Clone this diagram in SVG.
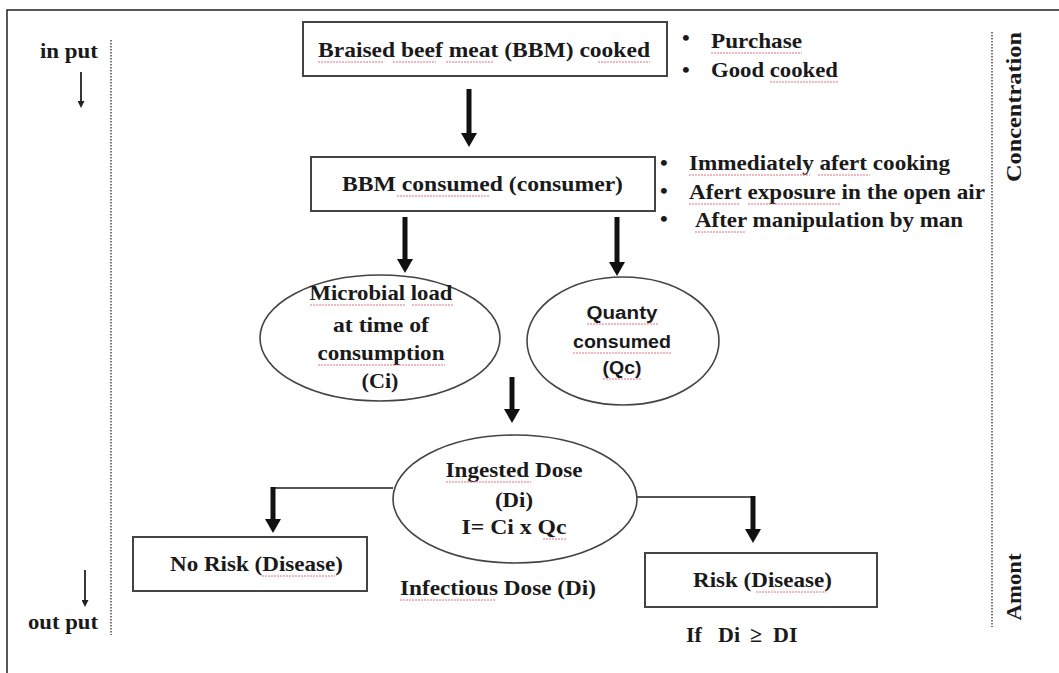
<svg xmlns="http://www.w3.org/2000/svg" width="1059" height="673" viewBox="0 0 1059 673">
<defs>
<style>
.t{font-family:"Liberation Serif","Times New Roman",serif;font-weight:bold;font-size:22px;fill:#1a1a1a}
.s{font-family:"Liberation Sans",Arial,sans-serif;font-weight:bold;font-size:18px;fill:#1a1a1a}
.mid{text-anchor:middle}
.box{fill:#fff;stroke:#444;stroke-width:2}
.ell{fill:#fff;stroke:#444;stroke-width:1.6}
.thick{stroke:#111;stroke-width:5;fill:none}
.thin{stroke:#555;stroke-width:2.2;fill:none}
.small{stroke:#222;stroke-width:1.8;fill:none}
.dot{stroke:#555;stroke-width:1.6;stroke-dasharray:1.5 1.5;fill:none}
.sp{stroke:#e0707f;stroke-width:1;fill:none;stroke-dasharray:2 1}
</style>
<marker id="ah" viewBox="0 0 14 16" refX="0" refY="8" markerWidth="14" markerHeight="16" markerUnits="userSpaceOnUse" orient="auto">
<path d="M0,0 L14,8 L0,16 z" fill="#111"/>
</marker>
<marker id="sh" viewBox="0 0 7 7" refX="0" refY="3.5" markerWidth="7" markerHeight="7" markerUnits="userSpaceOnUse" orient="auto">
<path d="M0,0 L7,3.5 L0,7 z" fill="#222"/>
</marker>
</defs>
<rect width="1059" height="673" fill="#fff"/>
<path d="M7,673 V10 H1059" stroke="#222" stroke-width="1.5" fill="none"/>

<g id="side-left">
<text class="t" x="40" y="58" textLength="58" lengthAdjust="spacingAndGlyphs">in put</text>
<line class="small" x1="81" y1="72" x2="81" y2="101" marker-end="url(#sh)"/>
<line class="small" x1="85" y1="570" x2="85" y2="600" marker-end="url(#sh)"/>
<text class="t" x="28" y="629" textLength="70" lengthAdjust="spacingAndGlyphs">out put</text>
<line class="dot" x1="111" y1="40" x2="111" y2="635"/>
</g>

<g id="side-right">
<line class="dot" x1="992" y1="32" x2="992" y2="627"/>
<text class="t mid" transform="translate(1021,107) rotate(-90)" x="0" y="0" textLength="150" lengthAdjust="spacingAndGlyphs">Concentration</text>
<text class="t mid" transform="translate(1021,587) rotate(-90)" x="0" y="0" textLength="67" lengthAdjust="spacingAndGlyphs">Amont</text>
</g>

<g id="connectors">
<line class="thick" x1="469" y1="89" x2="469" y2="133" marker-end="url(#ah)"/>
<line class="thick" x1="405" y1="217" x2="405" y2="259" marker-end="url(#ah)"/>
<line class="thick" x1="617" y1="217" x2="617" y2="262" marker-end="url(#ah)"/>
<line class="thick" x1="512" y1="377" x2="512" y2="409" marker-end="url(#ah)"/>
<polyline class="thin" points="393,488 273,488"/>
<line class="thick" x1="273" y1="487" x2="273" y2="519" marker-end="url(#ah)"/>
<polyline class="thin" points="637,497 753,497"/>
<line class="thick" x1="753" y1="496" x2="753" y2="529" marker-end="url(#ah)"/>
</g>

<g id="node-bbm-cooked">
<rect class="box" x="303" y="22" width="364" height="54"/>
<text class="t" x="318" y="57" textLength="332" lengthAdjust="spacingAndGlyphs">Braised beef meat (BBM) cooked</text>
<path class="sp" d="M318,62 H383 M393,62 H436 M446,62 H494 M598,62 H650"/>
</g>

<g id="notes-cooked">
<text class="t" x="682" y="45">•</text>
<text class="t" x="711" y="48" textLength="91" lengthAdjust="spacingAndGlyphs">Purchase</text>
<text class="t" x="682" y="77">•</text>
<text class="t" x="711" y="77" textLength="127" lengthAdjust="spacingAndGlyphs">Good cooked</text>
<path class="sp" d="M711,53 H802 M770,82 H838"/>
</g>

<g id="node-bbm-consumed">
<rect class="box" x="311" y="157" width="344" height="54"/>
<text class="t" x="342" y="191" textLength="281" lengthAdjust="spacingAndGlyphs">BBM consumed (consumer)</text>
<path class="sp" d="M397,196 H490"/>
</g>

<g id="notes-consumed">
<text class="t" x="660" y="170">•</text>
<text class="t" x="689" y="170" textLength="261" lengthAdjust="spacingAndGlyphs">Immediately afert cooking</text>
<text class="t" x="660" y="198">•</text>
<text class="t" x="689" y="199" textLength="296" lengthAdjust="spacingAndGlyphs">Afert exposure in the open air</text>
<text class="t" x="660" y="226">•</text>
<text class="t" x="695" y="227" textLength="268" lengthAdjust="spacingAndGlyphs">After manipulation by man</text>
<path class="sp" d="M689,175 H810 M818,175 H870 M689,204 H740 M748,204 H840 M695,232 H745"/>
</g>

<g id="node-microbial">
<ellipse class="ell" cx="380" cy="338" rx="120" ry="63"/>
<text class="t mid" x="381" y="300" textLength="143" lengthAdjust="spacingAndGlyphs">Microbial load</text>
<text class="t mid" x="381" y="332" textLength="96" lengthAdjust="spacingAndGlyphs">at time of</text>
<text class="t mid" x="381" y="360" textLength="127" lengthAdjust="spacingAndGlyphs">consumption</text>
<text class="t mid" x="380" y="388" textLength="37" lengthAdjust="spacingAndGlyphs">(Ci)</text>
<path class="sp" d="M310,305 H405 M412,305 H453 M318,365 H445"/>
</g>

<g id="node-quantity">
<ellipse class="ell" cx="623" cy="341" rx="96" ry="64"/>
<text class="s mid" x="622" y="319" textLength="71" lengthAdjust="spacingAndGlyphs">Quanty</text>
<text class="s mid" x="622" y="348" textLength="98" lengthAdjust="spacingAndGlyphs">consumed</text>
<text class="s mid" x="622" y="374" textLength="39" lengthAdjust="spacingAndGlyphs">(Qc)</text>
<path class="sp" d="M587,324 H658 M573,353 H671 M603,379 H642"/>
</g>

<g id="node-ingested">
<ellipse class="ell" cx="515" cy="499" rx="122" ry="64"/>
<text class="t mid" x="514" y="477" textLength="137" lengthAdjust="spacingAndGlyphs">Ingested Dose</text>
<text class="t mid" x="514" y="507" textLength="38" lengthAdjust="spacingAndGlyphs">(Di)</text>
<text class="t mid" x="514" y="534" textLength="105" lengthAdjust="spacingAndGlyphs">I= Ci x Qc</text>
<path class="sp" d="M446,482 H531 M543,539 H567"/>
</g>

<g id="node-no-risk">
<rect class="box" x="133" y="537" width="234" height="54"/>
<text class="t" x="170" y="571" textLength="173" lengthAdjust="spacingAndGlyphs">No Risk (Disease)</text>
<path class="sp" d="M262,576 H335"/>
</g>

<g id="label-infectious">
<text class="t" x="400" y="595" textLength="196" lengthAdjust="spacingAndGlyphs">Infectious Dose (Di)</text>
<path class="sp" d="M400,600 H496"/>
</g>

<g id="node-risk">
<rect class="box" x="645" y="553" width="232" height="54"/>
<text class="t" x="693" y="587" textLength="139" lengthAdjust="spacingAndGlyphs">Risk (Disease)</text>
<path class="sp" d="M756,592 H826"/>
</g>

<g id="label-condition">
<text class="t" y="642"><tspan x="686">If</tspan><tspan x="718">Di</tspan><tspan x="750">≥</tspan><tspan x="773">DI</tspan></text>
</g>
</svg>
